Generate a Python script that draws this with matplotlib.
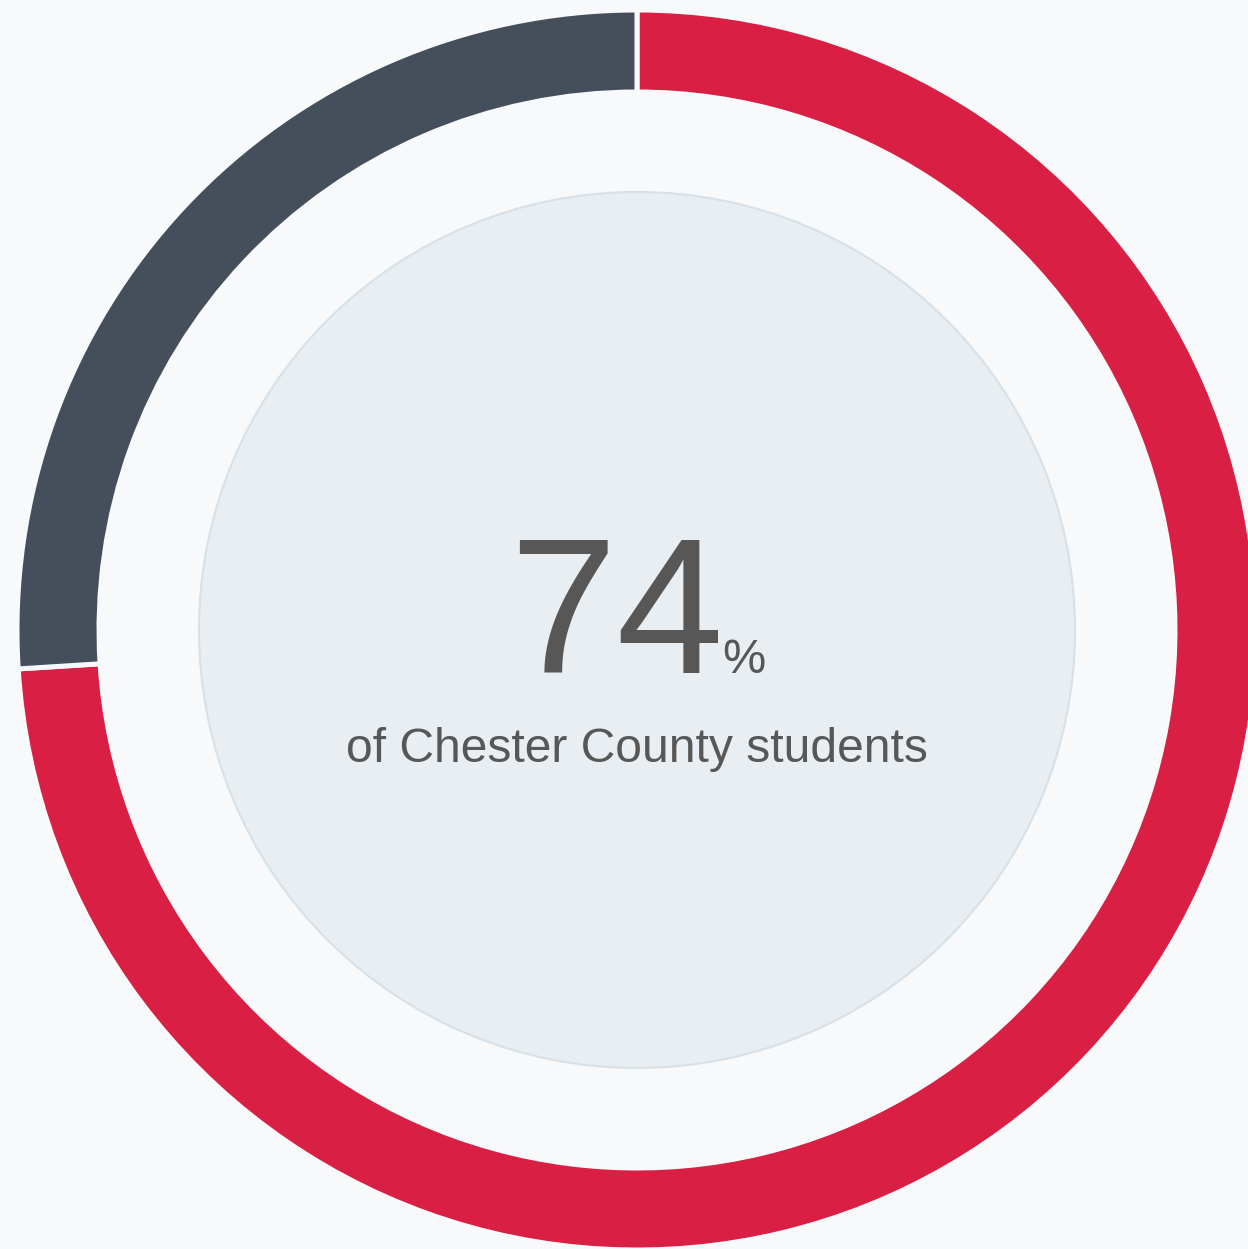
import matplotlib
matplotlib.use('Agg')
import matplotlib.pyplot as plt
from matplotlib.patches import Circle

plt.rcParams['font.family'] = ['Liberation Sans', 'DejaVu Sans']

# data
labels = ['Yes', 'No']
shares = [74, 26]
colors = ['#d91f43', '#444f5b']
headline = '74'
caption = 'of Chester County students'

bg = '#f7f9fb'
W, H = 1248, 1249

fig = plt.figure(figsize=(W / 100, H / 100), dpi=100, facecolor=bg)
ax = fig.add_axes([0, 0, 1, 1])
ax.set_facecolor(bg)

cx, cy = 637, H - 630

ax.pie(shares, colors=colors, startangle=90, counterclock=False,
       radius=620, center=(cx, cy),
       wedgeprops=dict(width=82, edgecolor=bg, linewidth=3.6))

ax.add_patch(Circle((cx, cy), 438, facecolor='#e8eef2', edgecolor='#d7e1e7', linewidth=1.5, zorder=3))

ax.text(509, H - 673, headline, fontsize=139, color='#575757', ha='left', va='baseline', zorder=4)
ax.text(722, H - 673, '%', fontsize=35, color='#575757', ha='left', va='baseline', zorder=4)
ax.text(cx, H - 762, caption, fontsize=34.6, color='#575757', ha='center', va='baseline', zorder=4)

ax.set_xlim(0, W)
ax.set_ylim(0, H)
ax.set_aspect('equal')
ax.axis('off')

fig.savefig('out.png', dpi=100, facecolor=bg)
